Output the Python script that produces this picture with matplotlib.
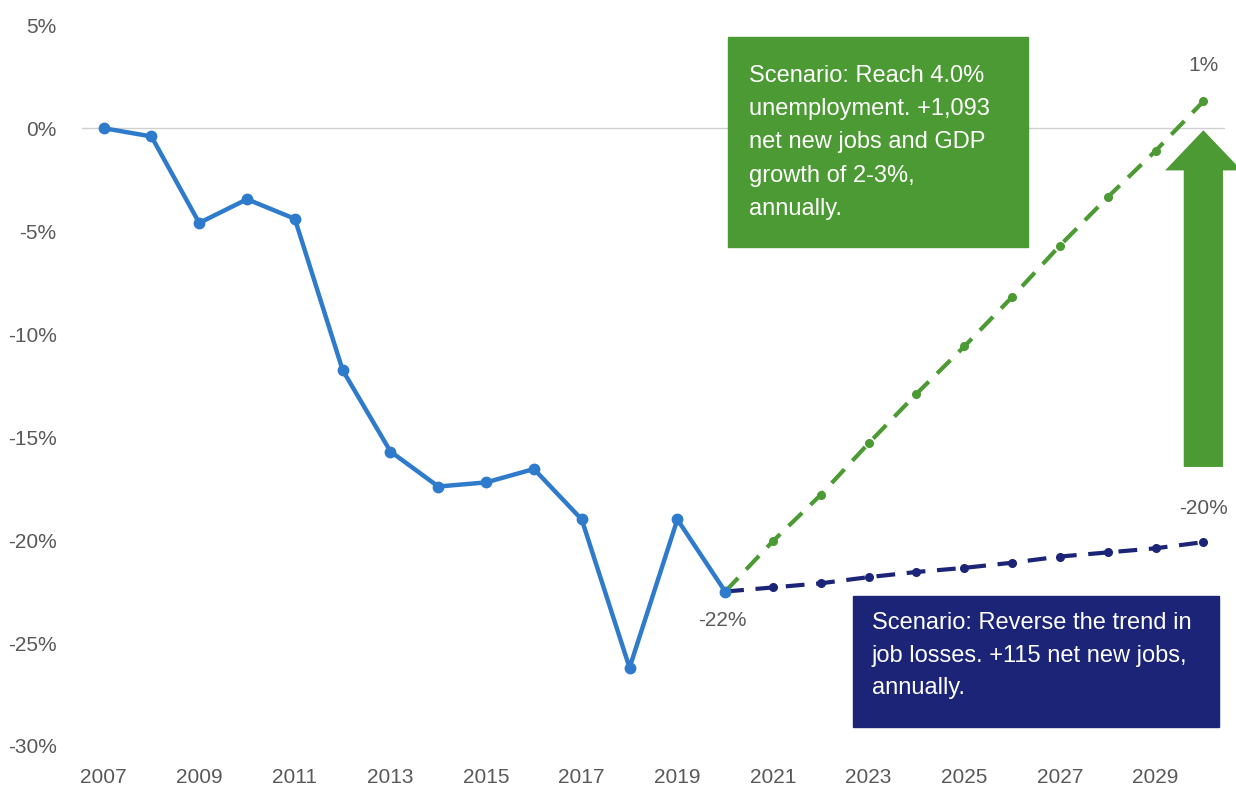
import matplotlib.pyplot as plt
from matplotlib.patches import Rectangle, FancyArrow

# historical series (% change)
hist_years = list(range(2007, 2021))
hist_vals = [0.0, -0.4, -4.6, -3.45, -4.4, -11.75, -15.7, -17.4, -17.2, -16.55, -19.0, -26.2, -19.0, -22.5]

# projection scenarios from 2020
proj_years = list(range(2020, 2031))
proj_high = [-22.5, -20.05, -17.8, -15.3, -12.9, -10.6, -8.2, -5.7, -3.35, -1.1, 1.3]
proj_low = [-22.5, -22.3, -22.1, -21.8, -21.55, -21.35, -21.1, -20.8, -20.6, -20.4, -20.1]

y_ticks = [5, 0, -5, -10, -15, -20, -25, -30]
x_ticks = list(range(2007, 2030, 2))

high_text = "Scenario: Reach 4.0%\nunemployment. +1,093\nnet new jobs and GDP\ngrowth of 2-3%,\nannually."
low_text = "Scenario: Reverse the trend in\njob losses. +115 net new jobs,\nannually."

plt.rcParams['font.family'] = ['Liberation Sans', 'DejaVu Sans']

blue = '#2F7BCB'
green = '#4C9A33'
navy = '#1C2478'
grey = '#595959'

fig = plt.figure(figsize=(12.36, 7.88), dpi=100)
ax = fig.add_axes([0.066, 0.0533, 0.925, 0.9147])

ax.axhline(0, color='#d0d0d0', lw=1, zorder=0)

ax.plot(hist_years, hist_vals, color=blue, lw=3.2, marker='o', ms=7.5, zorder=4)
ax.plot(proj_years, proj_high, color=green, lw=3, ls=(0, (4.5, 2.8)), marker='o', ms=5.5, zorder=3)
ax.plot(proj_years, proj_low, color=navy, lw=3, ls=(0, (4.5, 2.8)), marker='o', ms=5.5, zorder=3)

# data labels
ax.annotate('1%', (proj_years[-1], proj_high[-1]), xytext=(0, 36), textcoords='offset pixels',
            ha='center', va='center', fontsize=15, color=grey)
ax.annotate('-20%', (proj_years[-1], proj_low[-1]), xytext=(0, 34), textcoords='offset pixels',
            ha='center', va='center', fontsize=15, color=grey)
ax.annotate('-22%', (hist_years[-1], hist_vals[-1]), xytext=(-3, -29), textcoords='offset pixels',
            ha='center', va='center', fontsize=15, color=grey)

# scenario boxes
ax.add_patch(Rectangle((2020.05, -5.78), 6.28, 10.2, color=green, zorder=5, clip_on=False))
ax.text(2020.5, 3.05, high_text, color='white', fontsize=17, va='top', ha='left',
        linespacing=1.65, zorder=6)
ax.add_patch(Rectangle((2022.67, -29.08), 7.66, 6.36, color=navy, zorder=5, clip_on=False))
ax.text(2023.07, -23.5, low_text, color='white', fontsize=17, va='top', ha='left',
        linespacing=1.62, zorder=6)

# upward arrow
ax.add_patch(FancyArrow(2030, -16.45, 0, 16.35, width=0.82, head_width=1.6, head_length=1.95,
                        length_includes_head=True, color=green, lw=0, zorder=2, clip_on=False))

ax.set_xlim(2006.54, 2030.45)
ax.set_ylim(-30, 5)
ax.set_yticks(y_ticks)
ax.set_yticklabels([f'{v}%' for v in y_ticks])
ax.set_xticks(x_ticks)
ax.set_xticklabels([str(v) for v in x_ticks])
ax.tick_params(length=0, labelsize=15, colors=grey)
ax.tick_params(axis='y', pad=18)
ax.tick_params(axis='x', pad=16)
for s in ax.spines.values():
    s.set_visible(False)

fig.savefig('out.png', dpi=100)
